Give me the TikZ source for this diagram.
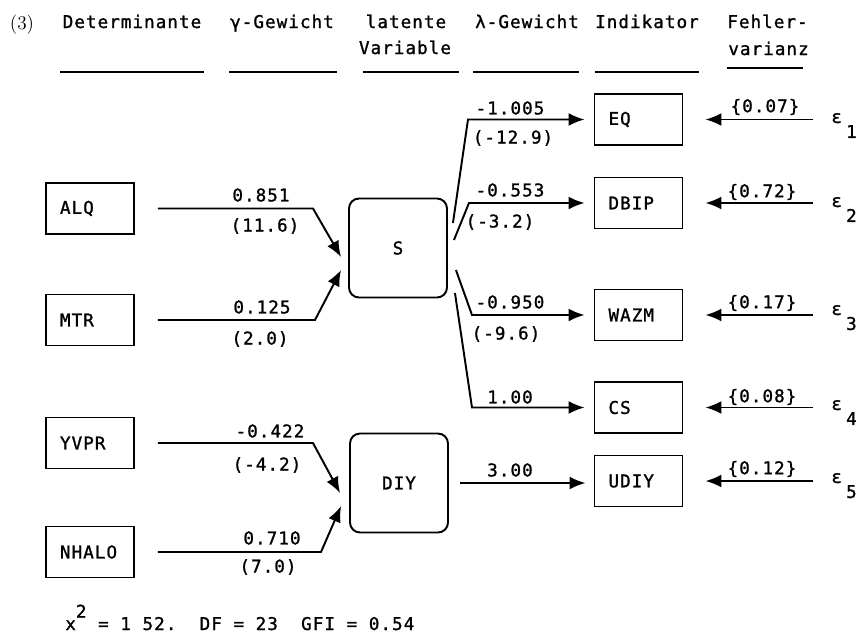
\documentclass[tikz,border=0pt]{standalone}
\usepackage{fontspec}
\setmonofont[LetterSpace=6, FakeBold=1.2]{DejaVu Sans Mono}
\usetikzlibrary{arrows.meta}

\tikzset{
  kasten/.style={draw, line width=1.1pt, minimum height=1.02cm, text width=1.2cm,
    inner xsep=0.28cm, align=left, font=\ttfamily},
  latent/.style={draw, line width=1.1pt, rounded corners=0.2cm, minimum width=1.96cm,
    minimum height=1.98cm, font=\ttfamily},
  pfeil/.style={line width=1.1pt, -{Latex[length=3.2mm,width=2.6mm]}},
  txt/.style={font=\ttfamily, inner sep=0pt},
  strich/.style={line width=1.1pt}
}

\begin{document}
\begin{tikzpicture}[x=0.02cm, y=-0.02cm]
  \useasboundingbox (0,0) rectangle (867,636);

  \node[anchor=base, font=\fontsize{11}{13}\selectfont] (nr) at (22,29) {(3)};
  \node[txt, anchor=base] (hdet) at (132,28) {Determinante};
  \node[txt, anchor=base] (hgam) at (282,28) {γ-Gewicht};
  \node[txt, anchor=base] (hlat) at (406,28) {latente};
  \node[txt, anchor=base] (hlatb) at (405,54) {Variable};
  \node[txt, anchor=base] (hlam) at (527,28) {λ-Gewicht};
  \node[txt, anchor=base] (hind) at (647,28) {Indikator};
  \node[txt, anchor=base west] (hfeh) at (727,28) {Fehler-};
  \node[txt, anchor=base west] (hfehb) at (728,55) {varianz};
  \draw[strich] (60,72) -- (204,72);
  \draw[strich] (229,72) -- (337,72);
  \draw[strich] (363,72) -- (459,72);
  \draw[strich] (473,72) -- (579,72);
  \draw[strich] (595,72) -- (699,72);
  \draw[strich] (727,68) -- (803,68);

  \node[kasten] (ALQ) at (90,208.5) {ALQ};
  \node[kasten] (MTR) at (90,320) {MTR};
  \node[kasten] (YVPR) at (90,443) {YVPR};
  \node[kasten] (NHALO) at (90,552) {NHALO};
  \node[latent] (S) at (398,248) {S};
  \node[latent] (DIY) at (399,483) {DIY};
  \node[kasten] (EQ) at (638.5,119.5) {EQ};
  \node[kasten] (DBIP) at (638.5,203) {DBIP};
  \node[kasten] (WAZM) at (638.5,315) {WAZM};
  \node[kasten] (CS) at (638.5,407.5) {CS};
  \node[kasten] (UDIY) at (638.5,481) {UDIY};

  \node[txt, anchor=base west] (e1) at (831,123) {ε\kern2.4pt\raisebox{-8.5pt}{1}};
  \node[txt, anchor=base west] (e2) at (831,207) {ε\kern2.4pt\raisebox{-8.5pt}{2}};
  \node[txt, anchor=base west] (e3) at (831,315) {ε\kern2.4pt\raisebox{-8.5pt}{3}};
  \node[txt, anchor=base west] (e4) at (831,410) {ε\kern2.4pt\raisebox{-8.5pt}{4}};
  \node[txt, anchor=base west] (e5) at (831,483) {ε\kern2.4pt\raisebox{-8.5pt}{5}};

  \draw[pfeil, shorten <=0.46cm] (ALQ.east) -- (313,208.5) -- ([shift={(-7,9)}]S.west);
  \draw[pfeil, shorten <=0.46cm] (MTR.east) -- (315,320) -- ([shift={(-7,22)}]S.west);
  \draw[pfeil, shorten <=0.46cm] (YVPR.east) -- (313,443) -- ([shift={(-9,10)}]DIY.west);
  \draw[pfeil, shorten <=0.46cm] (NHALO.east) -- (321,552) -- ([shift={(-8,23)}]DIY.west);

  \draw[pfeil, shorten >=0.18cm] ([shift={(5,-25)}]S.east) -- (468,119.5) -- (EQ.west);
  \draw[pfeil, shorten >=0.18cm] ([shift={(6,-8)}]S.east) -- (469,203) -- (DBIP.west);
  \draw[pfeil, shorten >=0.18cm] ([shift={(8,22)}]S.east) -- (472,315) -- (WAZM.west);
  \draw[pfeil, shorten >=0.18cm] ([shift={(7,45)}]S.east) -- (472,407.5) -- (CS.west);
  \draw[pfeil, shorten <=0.22cm, shorten >=0.16cm] (DIY.east) -- (DIY.east -| UDIY.west);

  \foreach \ind/\eps in {EQ/e1, DBIP/e2, WAZM/e3, CS/e4, UDIY/e5}
    \draw[pfeil, shorten <=0.36cm, shorten >=0.44cm] (\eps.base west |- \ind.east) -- (\ind.east);

  \node[txt] at (261,195) {0.851};
  \node[txt] at (265,226) {(11.6)};
  \node[txt] at (262,307) {0.125};
  \node[txt] at (260,339) {(2.0)};
  \node[txt] at (270,431) {-0.422};
  \node[txt] at (267,465) {(-4.2)};
  \node[txt] at (272,538) {0.710};
  \node[txt] at (268,567) {(7.0)};

  \node[txt] at (510,108) {-1.005};
  \node[txt] at (513,138) {(-12.9)};
  \node[txt] at (510,190) {-0.553};
  \node[txt] at (500,222) {(-3.2)};
  \node[txt] at (510,302) {-0.950};
  \node[txt] at (506,334) {(-9.6)};
  \node[txt] at (510,397) {1.00};
  \node[txt] at (510,470) {3.00};

  \node[txt] at (765,107) {\{0.07\}};
  \node[txt] at (762,192) {\{0.72\}};
  \node[txt] at (762,303) {\{0.17\}};
  \node[txt] at (762,397) {\{0.08\}};
  \node[txt] at (762,469) {\{0.12\}};

  \node[txt, anchor=base west] (fit) at (65,630)
    {x\raisebox{7pt}{2}~=~1~52.~~DF~=~23~~GFI~=~0.54};
\end{tikzpicture}
\end{document}
